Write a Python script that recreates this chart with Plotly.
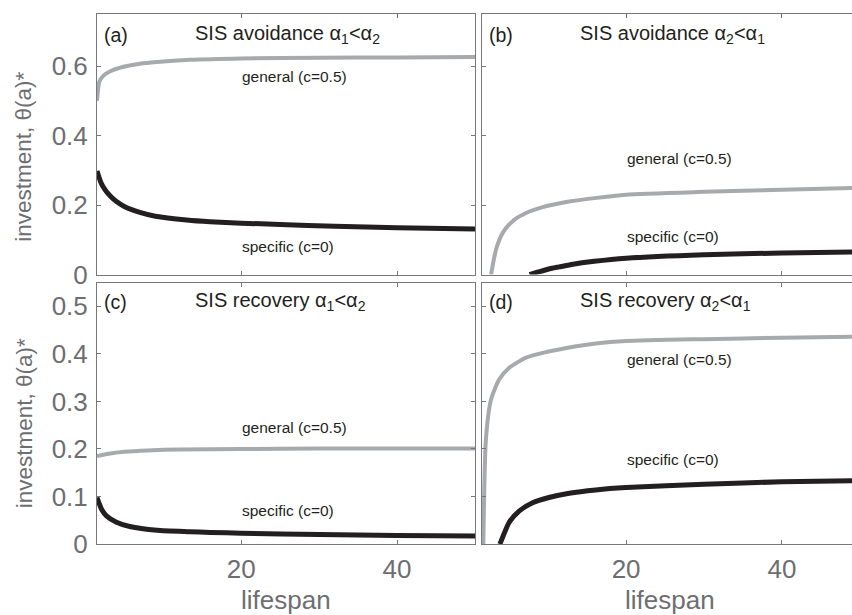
import plotly.graph_objects as go

# ---------------- data ----------------
# panel (a) SIS avoidance a1<a2
a_gen_x = [1.5, 1.8, 2.3, 3.2, 4.9, 7.0, 9.2, 13.4, 20, 30, 40, 50]
a_gen_y = [0.50, 0.555, 0.572, 0.585, 0.598, 0.607, 0.612, 0.618, 0.622, 0.624, 0.625, 0.626]
a_spe_x = [1.5, 2.0, 2.5, 3.2, 4.0, 5.0, 7.0, 9.0, 13, 16, 20, 25, 32, 40, 50]
a_spe_y = [0.298, 0.265, 0.245, 0.226, 0.210, 0.196, 0.179, 0.168, 0.157, 0.152, 0.148, 0.144, 0.139, 0.135, 0.131]

# panel (b) SIS avoidance a2<a1
b_gen_x = [2.66, 3.3, 4.16, 5.4, 7.15, 9.3, 12.7, 15.9, 20, 30, 40, 49]
b_gen_y = [0.0, 0.072, 0.12, 0.153, 0.177, 0.194, 0.21, 0.22, 0.23, 0.238, 0.244, 0.249]
b_spe_x = [7.6, 8.5, 9.3, 10.5, 11.4, 13, 15.9, 20, 30, 40, 49]
b_spe_y = [0.0, 0.006, 0.011, 0.018, 0.022, 0.029, 0.038, 0.047, 0.057, 0.062, 0.065]

# panel (c) SIS recovery a1<a2
c_gen_x = [1.5, 3, 5, 8, 12, 20, 30, 50]
c_gen_y = [0.185, 0.19, 0.194, 0.197, 0.199, 0.2, 0.201, 0.201]
c_spe_x = [1.5, 2.1, 2.75, 4.0, 5.7, 9.2, 13.4, 16, 20, 30, 40, 50]
c_spe_y = [0.098, 0.073, 0.059, 0.046, 0.037, 0.029, 0.026, 0.0245, 0.023, 0.020, 0.018, 0.017]

# panel (d) SIS recovery a2<a1
d_gen_x = [1.67, 2.0, 2.66, 3.7, 5.0, 7.15, 9.3, 13.6, 16.1, 20, 30, 40, 49]
d_gen_y = [0.0, 0.22, 0.304, 0.346, 0.371, 0.392, 0.402, 0.416, 0.422, 0.427, 0.431, 0.434, 0.436]
d_spe_x = [3.8, 5.0, 6.3, 8.0, 10.1, 12.7, 16.1, 20, 30, 40, 49]
d_spe_y = [0.0, 0.046, 0.07, 0.087, 0.098, 0.107, 0.114, 0.119, 0.126, 0.131, 0.133]

x_ticks = [20, 40]
x_tick_labels = ["20", "40"]
top_y_ticks = [0, 0.2, 0.4, 0.6]
top_y_labels = ["0", "0.2", "0.4", "0.6"]
bot_y_ticks = [0, 0.1, 0.2, 0.3, 0.4, 0.5]
bot_y_labels = ["0", "0.1", "0.2", "0.3", "0.4", "0.5"]

panel_letters = ["(a)", "(b)", "(c)", "(d)"]
panel_titles = ["SIS avoidance α<sub>1</sub><α<sub>2</sub>",
                "SIS avoidance α<sub>2</sub><α<sub>1</sub>",
                "SIS recovery α<sub>1</sub><α<sub>2</sub>",
                "SIS recovery α<sub>2</sub><α<sub>1</sub>"]
gen_label = "general (c=0.5)"
spe_label = "specific (c=0)"
gen_label_y = [0.569, 0.335, 0.245, 0.388]
spe_label_y = [0.081, 0.11, 0.07, 0.178]

# ---------------- styling ----------------
W, H = 852, 615          # reference pixel frame used for all positions
FIG_H = 629              # rendered height (page is scaled back to 615)
GRAY_LINE = "#a7a9ac"
BLACK_LINE = "#231f20"
AX_COL = "#77787b"
TXT_GRAY = "#6d6e71"
FONT = "Liberation Sans, Arial, Helvetica, sans-serif"

xl = [97 / W, 475 / W]
xr = [482 / W, 1.0]
yt = [1 - 275 / H, 1 - 14 / H]
yb = [1 - 545 / H, 1 - 283 / H]

fig = go.Figure()

series = [
    (a_gen_x, a_gen_y, a_spe_x, a_spe_y, "x", "y"),
    (b_gen_x, b_gen_y, b_spe_x, b_spe_y, "x2", "y2"),
    (c_gen_x, c_gen_y, c_spe_x, c_spe_y, "x3", "y3"),
    (d_gen_x, d_gen_y, d_spe_x, d_spe_y, "x4", "y4"),
]
for gx, gy, sx, sy, xa, ya in series:
    fig.add_trace(go.Scatter(x=gx, y=gy, mode="lines", xaxis=xa, yaxis=ya,
                             line=dict(color=GRAY_LINE, width=4, shape="spline", smoothing=0.6),
                             showlegend=False, hoverinfo="skip"))
    fig.add_trace(go.Scatter(x=sx, y=sy, mode="lines", xaxis=xa, yaxis=ya,
                             line=dict(color=BLACK_LINE, width=5, shape="spline", smoothing=0.6),
                             showlegend=False, hoverinfo="skip"))


def xaxis(domain, anchor, rng, labels):
    return dict(domain=domain, anchor=anchor, range=rng, showline=True, linecolor=AX_COL,
                linewidth=1, mirror="ticks", ticks="inside", ticklen=4, tickcolor=AX_COL,
                tickvals=x_ticks, ticktext=x_tick_labels, showticklabels=labels,
                showgrid=False, zeroline=False, ticklabelstandoff=2,
                tickfont=dict(family=FONT, size=26, color=TXT_GRAY))


def yaxis(domain, anchor, rng, tv, tt, labels, mirror):
    return dict(domain=domain, anchor=anchor, range=rng, showline=True, linecolor=AX_COL,
                linewidth=1, mirror=("ticks" if mirror else False), ticks="inside", ticklen=4,
                tickcolor=AX_COL, tickvals=tv, ticktext=tt, showticklabels=labels,
                showgrid=False, zeroline=False, ticklabelstandoff=3,
                tickfont=dict(family=FONT, size=26, color=TXT_GRAY))


fig.update_layout(
    width=W, height=FIG_H, margin=dict(l=0, r=0, t=0, b=0),
    paper_bgcolor="white", plot_bgcolor="white",
    xaxis=xaxis(xl, "y", [1.5, 50], False),
    xaxis2=xaxis(xr, "y2", [1.5, 49.0], False),
    xaxis3=xaxis(xl, "y3", [1.5, 50], True),
    xaxis4=xaxis(xr, "y4", [1.5, 49.0], True),
    yaxis=yaxis(yt, "x", [0, 0.75], top_y_ticks, top_y_labels, True, True),
    yaxis2=yaxis(yt, "x2", [0, 0.75], top_y_ticks, top_y_labels, False, False),
    yaxis3=yaxis(yb, "x3", [0, 0.55], bot_y_ticks, bot_y_labels, True, True),
    yaxis4=yaxis(yb, "x4", [0, 0.55], bot_y_ticks, bot_y_labels, False, False),
)

anns = []
axes = [("x", "y", 0.69), ("x2", "y2", 0.69), ("x3", "y3", 0.51), ("x4", "y4", 0.51)]
for i, (xa, ya, ty) in enumerate(axes):
    anns.append(dict(xref=xa, yref=ya, x=2.2, y=ty, text=panel_letters[i], showarrow=False,
                     xanchor="left", yanchor="middle",
                     font=dict(family=FONT, size=19.5, color=BLACK_LINE)))
    anns.append(dict(xref=xa, yref=ya, x=13.8, y=ty, text=panel_titles[i], showarrow=False,
                     xanchor="left", yanchor="middle",
                     font=dict(family=FONT, size=20, color=BLACK_LINE)))
    anns.append(dict(xref=xa, yref=ya, x=19.8, y=gen_label_y[i], text=gen_label, showarrow=False,
                     xanchor="left", yanchor="middle",
                     font=dict(family=FONT, size=15.5, color=BLACK_LINE)))
    anns.append(dict(xref=xa, yref=ya, x=19.8, y=spe_label_y[i], text=spe_label, showarrow=False,
                     xanchor="left", yanchor="middle",
                     font=dict(family=FONT, size=15.5, color=BLACK_LINE)))

for xc in [286 / W, 670 / W]:
    anns.append(dict(xref="paper", yref="paper", x=xc, y=1 - 601 / H, text="lifespan",
                     showarrow=False, xanchor="center", yanchor="middle",
                     font=dict(family=FONT, size=26, color=TXT_GRAY)))
for yc in [1 - 157 / H, 1 - 424 / H]:
    anns.append(dict(xref="paper", yref="paper", x=24 / W, y=yc, text="investment, θ(a)*",
                     textangle=-90, showarrow=False, xanchor="center", yanchor="middle",
                     font=dict(family=FONT, size=22.5, color=TXT_GRAY)))

fig.update_layout(annotations=anns)

page_fix = (
    "document.documentElement.style.margin='0';"
    "document.body.style.margin='0';"
)
fig.write_html("out.html", config={"displayModeBar": False}, post_script=page_fix)
